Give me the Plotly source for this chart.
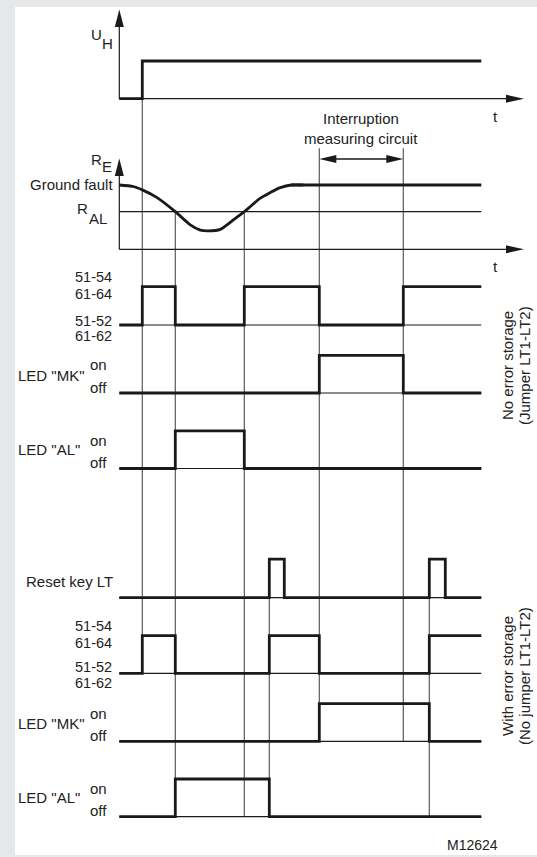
import plotly.graph_objects as go

W, H = 537, 857

# ---------------- data (time t in arbitrary units, states 0 = off/low, 1 = on/high) -------------
T_END = 18.1

uh_t = [0, 1.15, 18.1]
uh_v = [0, 1, 1]

# earth resistance R_E (R_AL = 1.0)
R_AL = 1.0
RE_HIGH = 1.71
re_t = [0, 0.7, 1.15, 1.87, 2.8, 3.55, 4.05, 4.45, 5.05, 5.7, 6.25, 7.05, 7.55, 8.05, 8.6, 9.2]
re_v = [1.71, 1.67, 1.58, 1.38, 1.0, 0.65, 0.51, 0.49, 0.53, 0.78, 1.0, 1.36, 1.51, 1.64, 1.71, 1.71]
re_flat_t = [8.6, 18.1]

interruption = [10.0, 14.2]

relay1_t = [0, 1.15, 2.8, 6.25, 10.0, 14.2, 18.1]
relay1_v = [0, 1, 0, 1, 0, 1, 1]
mk1_t = [0, 10.0, 14.2, 18.1]
mk1_v = [0, 1, 0, 0]
al1_t = [0, 2.8, 6.25, 18.1]
al1_v = [0, 1, 0, 0]

reset_t = [0, 7.5, 8.25, 15.5, 16.3, 18.1]
reset_v = [0, 1, 0, 1, 0, 0]
relay2_t = [0, 1.15, 2.8, 7.5, 10.0, 15.5, 18.1]
relay2_v = [0, 1, 0, 1, 0, 1, 1]
mk2_t = [0, 10.0, 15.5, 18.1]
mk2_v = [0, 1, 0, 0]
al2_t = [0, 2.8, 7.5, 18.1]
al2_v = [0, 1, 0, 0]

# ---------------- layout (pixel positions) ----------------
X0_PX, PX_PER_T = 119.3, 20.0
ROWS = {  # name: (pixel of level 0, pixels per unit)
    "uh": (98.7, 37.7),
    "re": (249.3, 37.6),
    "relay1": (325.0, 38.3),
    "mk1": (393.0, 37.6),
    "al1": (468.5, 37.6),
    "reset": (597.7, 38.5),
    "relay2": (673.3, 37.6),
    "mk2": (741.3, 37.6),
    "al2": (816.7, 37.7),
}
ROW_AXIS = {name: i + 1 for i, name in enumerate(ROWS)}

FONT = "Liberation Sans, Arial, sans-serif"
FS = 15
TXT = "#222222"
INK = "#1a1a1a"
GUIDE = "#5a5a5a"
THICK, THIN = 2.8, 1.2


def row_px(row, level):
    base, scale = ROWS[row]
    return base - level * scale


def py(px):
    return 1 - px / H


def xp(px):
    return px / W


fig = go.Figure()


def yname(row):
    i = ROW_AXIS[row]
    return "y" if i == 1 else f"y{i}"


def add_line(row, t, v, width, shape="hv", color=INK, smoothing=None):
    line = dict(color=color, width=width, shape=shape)
    if smoothing is not None:
        line["smoothing"] = smoothing
    fig.add_trace(go.Scatter(x=t, y=v, mode="lines", line=line, yaxis=yname(row),
                             hoverinfo="skip", showlegend=False))


# baselines (thin) and signals (thick)
for row, t, v in [("relay1", relay1_t, relay1_v), ("mk1", mk1_t, mk1_v), ("al1", al1_t, al1_v),
                  ("reset", reset_t, reset_v), ("relay2", relay2_t, relay2_v),
                  ("mk2", mk2_t, mk2_v), ("al2", al2_t, al2_v)]:
    add_line(row, [t[0], t[-1]], [0, 0], THIN, shape="linear")
    add_line(row, t, v, THICK)

add_line("uh", uh_t, uh_v, THICK)
add_line("re", [re_t[0], T_END], [R_AL, R_AL], THIN, shape="linear")
add_line("re", re_flat_t, [RE_HIGH, RE_HIGH], THICK, shape="linear")
add_line("re", re_t, re_v, THICK, shape="spline", smoothing=0.7)

# axes per row, all spanning the full figure height
xr = [(0 - X0_PX) / PX_PER_T, (W - X0_PX) / PX_PER_T]
layout_axes = dict(xaxis=dict(domain=[0, 1], range=xr, visible=False, fixedrange=True))
for row, i in ROW_AXIS.items():
    base, scale = ROWS[row]
    ax = dict(domain=[0, 1], range=[(base - H) / scale, base / scale], visible=False, fixedrange=True)
    if i > 1:
        ax["overlaying"] = "y"
    layout_axes["yaxis" if i == 1 else f"yaxis{i}"] = ax

shapes = [dict(type="rect", xref="paper", yref="paper", x0=xp(15), x1=1, y0=py(855), y1=py(7),
               fillcolor="white", line=dict(width=0), layer="below")]

BRACKET_TOP = 148.3
guides = [
    (uh_t[1], row_px("uh", 1), row_px("relay2", 0)),
    (al1_t[1], row_px("re", R_AL), row_px("al2", 0)),
    (al1_t[2], row_px("re", R_AL), row_px("al2", 0)),
    (reset_t[1], row_px("reset", 0), row_px("al2", 0)),
    (interruption[0], BRACKET_TOP, row_px("mk2", 0)),
    (interruption[1], BRACKET_TOP, row_px("mk2", 0)),
    (reset_t[3], row_px("reset", 0), row_px("al2", 0)),
]
for t, a, b in guides:
    shapes.append(dict(type="line", xref="x", yref="paper", x0=t, x1=t, y0=py(a), y1=py(b),
                       line=dict(color=GUIDE, width=1.2), layer="below"))

ARROW_TIP_X = (524 - X0_PX) / PX_PER_T
# time axes and vertical axes
for row, top_px in [("uh", 9.5), ("re", 158.5)]:
    y0 = row_px(row, 0)
    shapes.append(dict(type="line", xref="x", yref="paper", x0=0, x1=ARROW_TIP_X - 0.5,
                       y0=py(y0), y1=py(y0), line=dict(color=INK, width=THIN)))
    shapes.append(dict(type="line", xref="x", yref="paper", x0=0, x1=0,
                       y0=py(y0), y1=py(top_px + 5), line=dict(color=INK, width=THIN)))
    shapes.append(dict(type="path", xref="x", yref="paper", xsizemode="pixel", ysizemode="pixel",
                       xanchor=ARROW_TIP_X, yanchor=py(y0), path="M0,0 L-18,4 L-18,-4 Z",
                       fillcolor=INK, line=dict(width=0)))
    shapes.append(dict(type="path", xref="x", yref="paper", xsizemode="pixel", ysizemode="pixel",
                       xanchor=0, yanchor=py(top_px), path="M0,0 L-4.5,-17.5 L4.5,-17.5 Z",
                       fillcolor=INK, line=dict(width=0)))

# double arrow for the interruption of the measuring circuit
BR_Y = 159.0
shapes.append(dict(type="line", xref="x", yref="paper", x0=interruption[0] + 0.5, x1=interruption[1] - 0.5,
                   y0=py(BR_Y), y1=py(BR_Y), line=dict(color=INK, width=1.5)))
shapes.append(dict(type="path", xref="x", yref="paper", xsizemode="pixel", ysizemode="pixel",
                   xanchor=interruption[0], yanchor=py(BR_Y), path="M0,0 L17,4 L17,-4 Z",
                   fillcolor=INK, line=dict(width=0)))
shapes.append(dict(type="path", xref="x", yref="paper", xsizemode="pixel", ysizemode="pixel",
                   xanchor=interruption[1], yanchor=py(BR_Y), path="M0,0 L-17,4 L-17,-4 Z",
                   fillcolor=INK, line=dict(width=0)))

annotations = []


def ann(text, x_px, y_px, xanchor="right", size=FS, angle=0):
    annotations.append(dict(text=text, x=xp(x_px), y=py(y_px), xref="paper", yref="paper",
                            xanchor=xanchor, yanchor="middle", showarrow=False, textangle=angle,
                            font=dict(family=FONT, size=size, color=TXT), borderpad=0))


ann("U", 102.5, 34)
ann("H", 114, 43)
ann("R", 102.5, 159.5)
ann("E", 113, 166.5)
ann("Ground fault", 113.5, 184)
ann("R", 88.5, 208.5)
ann("AL", 108, 218)
ann("t", 495.7, 116.7, "center")
ann("t", 495.7, 266.7, "center")
ann("Interruption", 361, 118.3, "center")
ann("measuring circuit", 361, 138.3, "center")

for row, offs in [("relay1", (-10.0, 7.0, -4.5, 11.0)), ("relay2", (-10.0, 7.0, -6.0, 10.0))]:
    hi, lo = row_px(row, 1), row_px(row, 0)
    ann("51-54", 112.5, hi + offs[0], size=14.5)
    ann("61-64", 112.5, hi + offs[1], size=14.5)
    ann("51-52", 112.5, lo + offs[2], size=14.5)
    ann("61-62", 112.5, lo + offs[3], size=14.5)

for row, label, dy in [("mk1", 'LED "MK"', 18), ("mk2", 'LED "MK"', 18),
                       ("al1", 'LED "AL"', 19.4), ("al2", 'LED "AL"', 19.4)]:
    off = row_px(row, 0)
    ann(label, 17, off - dy, "left")
    ann("on", 89, off - 28.2, "left")
    ann("off", 89, off - 5.8, "left")

ann("Reset key LT", 113.5, 581)
ann("No error storage", 507, 366, "center", angle=-90)
ann("(Jumper LT1-LT2)", 524, 366, "center", angle=-90)
ann("With error storage", 507, 676, "center", angle=-90)
ann("(No jumper LT1-LT2)", 524, 676, "center", angle=-90)
ann("M12624", 472, 845, "center", size=14)

fig.update_layout(
    width=W, height=H, autosize=False,
    margin=dict(l=0, r=0, t=0, b=0, pad=0),
    paper_bgcolor="#e6e7e9", plot_bgcolor="rgba(0,0,0,0)",
    shapes=shapes, annotations=annotations, showlegend=False,
    **layout_axes,
)

fig.write_html("out.html", config={"displayModeBar": False},
               post_script="document.body.style.margin='0px';document.body.style.overflow='hidden';")
